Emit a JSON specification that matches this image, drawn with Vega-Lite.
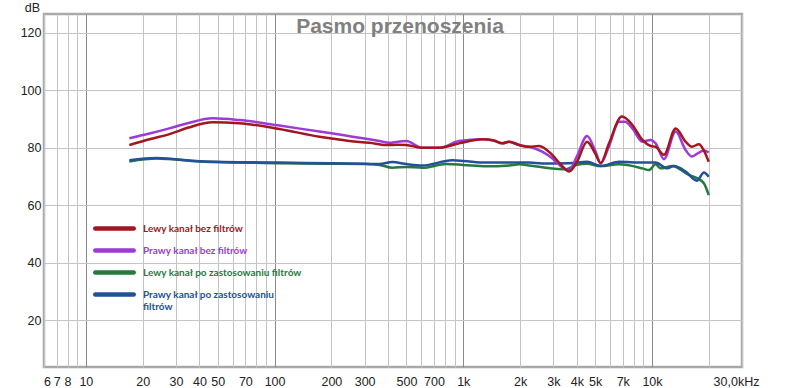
{
 "$schema": "https://vega.github.io/schema/vega-lite/v6.json",
 "width": 698,
 "height": 353,
 "autosize": {"type": "none"},
 "padding": {"left": 44, "top": 14, "right": 58, "bottom": 21},
 "background": "white",
 "config": {"view": {"stroke": "#a9a9a9", "strokeWidth": 2.5}, "font": "Liberation Sans"},
 "title": {"text": "Pasmo przenoszenia", "fontSize": 21, "fontWeight": "bold", "color": "#808080", "font": "Liberation Sans", "anchor": "middle", "frame": "group", "baseline": "alphabetic", "offset": -19, "dx": 7, "dy": 34},
 "layer": [
  {
   "data": {"values": [
    {"s":"Lewy kanał po zastosowaniu filtrów","f":17,"db":75.2},{"s":"Lewy kanał po zastosowaniu filtrów","f":23.7,"db":76.2},{"s":"Lewy kanał po zastosowaniu filtrów","f":40,"db":75.2},{"s":"Lewy kanał po zastosowaniu filtrów","f":106,"db":74.6},{"s":"Lewy kanał po zastosowaniu filtrów","f":200,"db":74.4},{"s":"Lewy kanał po zastosowaniu filtrów","f":300,"db":74.3},{"s":"Lewy kanał po zastosowaniu filtrów","f":360,"db":74.0},{"s":"Lewy kanał po zastosowaniu filtrów","f":420,"db":73.0},{"s":"Lewy kanał po zastosowaniu filtrów","f":500,"db":73.3},{"s":"Lewy kanał po zastosowaniu filtrów","f":607,"db":73.0},{"s":"Lewy kanał po zastosowaniu filtrów","f":813,"db":74.3},{"s":"Lewy kanał po zastosowaniu filtrów","f":1000,"db":74.0},{"s":"Lewy kanał po zastosowaniu filtrów","f":1320,"db":73.5},{"s":"Lewy kanał po zastosowaniu filtrów","f":1750,"db":73.8},{"s":"Lewy kanał po zastosowaniu filtrów","f":1980,"db":74.2},{"s":"Lewy kanał po zastosowaniu filtrów","f":2230,"db":73.8},{"s":"Lewy kanał po zastosowaniu filtrów","f":2620,"db":73.2},{"s":"Lewy kanał po zastosowaniu filtrów","f":3500,"db":72.5},{"s":"Lewy kanał po zastosowaniu filtrów","f":3960,"db":74.0},{"s":"Lewy kanał po zastosowaniu filtrów","f":4530,"db":74.4},{"s":"Lewy kanał po zastosowaniu filtrów","f":5350,"db":73.6},{"s":"Lewy kanał po zastosowaniu filtrów","f":6690,"db":74.2},{"s":"Lewy kanał po zastosowaniu filtrów","f":8890,"db":72.8},{"s":"Lewy kanał po zastosowaniu filtrów","f":9640,"db":72.2},{"s":"Lewy kanał po zastosowaniu filtrów","f":10460,"db":74.2},{"s":"Lewy kanał po zastosowaniu filtrów","f":11120,"db":72.8},{"s":"Lewy kanał po zastosowaniu filtrów","f":12810,"db":73.6},{"s":"Lewy kanał po zastosowaniu filtrów","f":15700,"db":70.5},{"s":"Lewy kanał po zastosowaniu filtrów","f":17300,"db":69.4},{"s":"Lewy kanał po zastosowaniu filtrów","f":18840,"db":67.6},{"s":"Lewy kanał po zastosowaniu filtrów","f":20000,"db":63.5},
    {"s":"Prawy kanał po zastosowaniu filtrów","f":17,"db":75.6},{"s":"Prawy kanał po zastosowaniu filtrów","f":23.7,"db":76.4},{"s":"Prawy kanał po zastosowaniu filtrów","f":40,"db":75.3},{"s":"Prawy kanał po zastosowaniu filtrów","f":106,"db":74.8},{"s":"Prawy kanał po zastosowaniu filtrów","f":200,"db":74.6},{"s":"Prawy kanał po zastosowaniu filtrów","f":300,"db":74.4},{"s":"Prawy kanał po zastosowaniu filtrów","f":360,"db":74.3},{"s":"Prawy kanał po zastosowaniu filtrów","f":421,"db":75.0},{"s":"Prawy kanał po zastosowaniu filtrów","f":500,"db":74.3},{"s":"Prawy kanał po zastosowaniu filtrów","f":607,"db":73.8},{"s":"Prawy kanał po zastosowaniu filtrów","f":875,"db":75.6},{"s":"Prawy kanał po zastosowaniu filtrów","f":1000,"db":75.4},{"s":"Prawy kanał po zastosowaniu filtrów","f":1320,"db":74.8},{"s":"Prawy kanał po zastosowaniu filtrów","f":1750,"db":74.8},{"s":"Prawy kanał po zastosowaniu filtrów","f":2230,"db":74.8},{"s":"Prawy kanał po zastosowaniu filtrów","f":2620,"db":74.5},{"s":"Prawy kanał po zastosowaniu filtrów","f":3640,"db":74.6},{"s":"Prawy kanał po zastosowaniu filtrów","f":4530,"db":75.1},{"s":"Prawy kanał po zastosowaniu filtrów","f":5350,"db":73.6},{"s":"Prawy kanał po zastosowaniu filtrów","f":6690,"db":75.1},{"s":"Prawy kanał po zastosowaniu filtrów","f":8890,"db":74.8},{"s":"Prawy kanał po zastosowaniu filtrów","f":10460,"db":74.8},{"s":"Prawy kanał po zastosowaniu filtrów","f":12050,"db":72.8},{"s":"Prawy kanał po zastosowaniu filtrów","f":13070,"db":73.6},{"s":"Prawy kanał po zastosowaniu filtrów","f":15070,"db":71.7},{"s":"Prawy kanał po zastosowaniu filtrów","f":17300,"db":68.5},{"s":"Prawy kanał po zastosowaniu filtrów","f":18840,"db":71.4},{"s":"Prawy kanał po zastosowaniu filtrów","f":20000,"db":69.9},
    {"s":"Prawy kanał bez filtrów","f":17,"db":83.3},{"s":"Prawy kanał bez filtrów","f":22,"db":85.0},{"s":"Prawy kanał bez filtrów","f":28,"db":86.8},{"s":"Prawy kanał bez filtrów","f":35,"db":88.6},{"s":"Prawy kanał bez filtrów","f":47,"db":90.2},{"s":"Prawy kanał bez filtrów","f":65,"db":89.6},{"s":"Prawy kanał bez filtrów","f":106,"db":87.7},{"s":"Prawy kanał bez filtrów","f":173,"db":85.6},{"s":"Prawy kanał bez filtrów","f":200,"db":85.0},{"s":"Prawy kanał bez filtrów","f":250,"db":84.0},{"s":"Prawy kanał bez filtrów","f":318,"db":82.9},{"s":"Prawy kanał bez filtrów","f":360,"db":82.3},{"s":"Prawy kanał bez filtrów","f":406,"db":81.7},{"s":"Prawy kanał bez filtrów","f":450,"db":82.1},{"s":"Prawy kanał bez filtrów","f":500,"db":82.3},{"s":"Prawy kanał bez filtrów","f":600,"db":80.0},{"s":"Prawy kanał bez filtrów","f":750,"db":80.0},{"s":"Prawy kanał bez filtrów","f":950,"db":82.3},{"s":"Prawy kanał bez filtrów","f":1260,"db":82.9},{"s":"Prawy kanał bez filtrów","f":1450,"db":82.5},{"s":"Prawy kanał bez filtrów","f":1610,"db":81.5},{"s":"Prawy kanał bez filtrów","f":1750,"db":82.1},{"s":"Prawy kanał bez filtrów","f":1980,"db":80.9},{"s":"Prawy kanał bez filtrów","f":2230,"db":80.3},{"s":"Prawy kanał bez filtrów","f":2620,"db":78.6},{"s":"Prawy kanał bez filtrów","f":2960,"db":76.3},{"s":"Prawy kanał bez filtrów","f":3300,"db":73.5},{"s":"Prawy kanał bez filtrów","f":3640,"db":72.2},{"s":"Prawy kanał bez filtrów","f":4000,"db":77.0},{"s":"Prawy kanał bez filtrów","f":4530,"db":84.1},{"s":"Prawy kanał bez filtrów","f":5000,"db":79.0},{"s":"Prawy kanał bez filtrów","f":5350,"db":74.6},{"s":"Prawy kanał bez filtrów","f":5920,"db":80.5},{"s":"Prawy kanał bez filtrów","f":6690,"db":89.0},{"s":"Prawy kanał bez filtrów","f":7200,"db":89.0},{"s":"Prawy kanał bez filtrów","f":7870,"db":86.7},{"s":"Prawy kanał bez filtrów","f":8890,"db":82.1},{"s":"Prawy kanał bez filtrów","f":9840,"db":82.7},{"s":"Prawy kanał bez filtrów","f":10460,"db":81.5},{"s":"Prawy kanał bez filtrów","f":11570,"db":76.0},{"s":"Prawy kanał bez filtrów","f":13350,"db":85.6},{"s":"Prawy kanał bez filtrów","f":15070,"db":79.2},{"s":"Prawy kanał bez filtrów","f":16290,"db":76.9},{"s":"Prawy kanał bez filtrów","f":17740,"db":78.3},{"s":"Prawy kanał bez filtrów","f":18840,"db":79.0},{"s":"Prawy kanał bez filtrów","f":20000,"db":78.3},
    {"s":"Lewy kanał bez filtrów","f":17,"db":80.9},{"s":"Lewy kanał bez filtrów","f":22,"db":83.0},{"s":"Lewy kanał bez filtrów","f":28,"db":84.8},{"s":"Lewy kanał bez filtrów","f":35,"db":87.0},{"s":"Lewy kanał bez filtrów","f":47,"db":88.8},{"s":"Lewy kanał bez filtrów","f":65,"db":88.5},{"s":"Lewy kanał bez filtrów","f":106,"db":86.5},{"s":"Lewy kanał bez filtrów","f":173,"db":83.8},{"s":"Lewy kanał bez filtrów","f":200,"db":83.2},{"s":"Lewy kanał bez filtrów","f":250,"db":82.3},{"s":"Lewy kanał bez filtrów","f":318,"db":81.7},{"s":"Lewy kanał bez filtrów","f":390,"db":80.9},{"s":"Lewy kanał bez filtrów","f":450,"db":81.0},{"s":"Lewy kanał bez filtrów","f":500,"db":80.9},{"s":"Lewy kanał bez filtrów","f":600,"db":80.0},{"s":"Lewy kanał bez filtrów","f":750,"db":80.0},{"s":"Lewy kanał bez filtrów","f":950,"db":81.5},{"s":"Lewy kanał bez filtrów","f":1260,"db":82.9},{"s":"Lewy kanał bez filtrów","f":1450,"db":82.5},{"s":"Lewy kanał bez filtrów","f":1610,"db":81.5},{"s":"Lewy kanał bez filtrów","f":1750,"db":82.1},{"s":"Lewy kanał bez filtrów","f":1980,"db":80.9},{"s":"Lewy kanał bez filtrów","f":2230,"db":80.3},{"s":"Lewy kanał bez filtrów","f":2520,"db":80.6},{"s":"Lewy kanał bez filtrów","f":2960,"db":77.5},{"s":"Lewy kanał bez filtrów","f":3300,"db":74.0},{"s":"Lewy kanał bez filtrów","f":3640,"db":71.7},{"s":"Lewy kanał bez filtrów","f":4000,"db":75.0},{"s":"Lewy kanał bez filtrów","f":4530,"db":82.1},{"s":"Lewy kanał bez filtrów","f":5000,"db":78.0},{"s":"Lewy kanał bez filtrów","f":5350,"db":74.6},{"s":"Lewy kanał bez filtrów","f":5920,"db":81.5},{"s":"Lewy kanał bez filtrów","f":6930,"db":90.8},{"s":"Lewy kanał bez filtrów","f":7870,"db":87.9},{"s":"Lewy kanał bez filtrów","f":8890,"db":82.7},{"s":"Lewy kanał bez filtrów","f":9840,"db":80.6},{"s":"Lewy kanał bez filtrów","f":10460,"db":80.3},{"s":"Lewy kanał bez filtrów","f":11570,"db":77.5},{"s":"Lewy kanał bez filtrów","f":13350,"db":86.7},{"s":"Lewy kanał bez filtrów","f":15070,"db":82.1},{"s":"Lewy kanał bez filtrów","f":16290,"db":80.3},{"s":"Lewy kanał bez filtrów","f":17740,"db":81.2},{"s":"Lewy kanał bez filtrów","f":18840,"db":79.0},{"s":"Lewy kanał bez filtrów","f":20000,"db":75.1}
   ]},
   "mark": {"type": "line", "strokeWidth": 2.5, "interpolate": "monotone"},
   "encoding": {
    "x": {"field": "f", "type": "quantitative",
      "scale": {"type": "log", "domain": [6, 30000], "nice": false},
      "axis": {"title": null, "domain": false, "ticks": false, "labelPadding": 8, "labelOverlap": false, "labelFlush": false, "labelFontSize": 12.5, "labelColor": "#222222", "labelFont": "Liberation Sans",
        "values": [6,7,8,9,10,20,30,40,50,60,70,80,90,100,200,300,400,500,600,700,800,900,1000,2000,3000,4000,5000,6000,7000,8000,9000,10000,20000,30000],
        "labelExpr": "datum.value == 30000 ? '30,0kHz' : (indexof([6,7,8,10,20,30,40,50,70,100,200,300,500,700,1000,2000,3000,4000,5000,7000,10000], datum.value) >= 0 ? (datum.value >= 1000 ? (datum.value/1000) + 'k' : '' + datum.value) : '')",
        "gridColor": {"condition": {"test": "datum.value == 10 || datum.value == 100 || datum.value == 1000 || datum.value == 10000", "value": "#8a8a8a"}, "value": "#c4c4c4"},
        "labelOffset": {"condition": [{"test": "datum.value == 30000", "value": -6}, {"test": "datum.value == 6", "value": 3}], "value": 0}
      }},
    "y": {"field": "db", "type": "quantitative",
      "scale": {"domain": [3.7, 126.5], "nice": false, "zero": false},
      "axis": {"title": "dB", "titleAngle": 0, "titleX": -12, "titleY": -7, "titleAlign": "center", "titleBaseline": "middle", "titleFontWeight": "normal", "titleFontSize": 12.5, "titleColor": "#222222", "titleFont": "Liberation Sans",
        "values": [20,40,60,80,100,120], "domain": false, "ticks": false, "labelPadding": 3, "labelFontSize": 12.5, "labelColor": "#222222", "labelFont": "Liberation Sans", "gridColor": "#c4c4c4"}},
    "color": {"field": "s", "type": "nominal",
      "scale": {"domain": ["Lewy kanał bez filtrów", "Prawy kanał bez filtrów", "Lewy kanał po zastosowaniu filtrów", "Prawy kanał po zastosowaniu filtrów"], "range": ["#a3161f", "#9c3bd6", "#267a3e", "#22509a"]},
      "legend": {"orient": "none", "legendX": 62, "legendY": 206, "title": null, "padding": 0,
        "symbolType": "M-3.2,0H3.2", "symbolSize": 144, "symbolStrokeWidth": 4.5, "symbolFillColor": "transparent",
        "labelFont": "Lato", "labelFontSize": 10, "labelFontWeight": "bold", "labelOffset": 20, "rowPadding": 3, "labelLimit": 300,
        "labelExpr": "datum.label == 'Prawy kanał po zastosowaniu filtrów' ? ['Prawy kanał po zastosowaniu', 'filtrów'] : datum.label",
        "encode": {"labels": {"update": {"fill": {"scale": "color", "field": "value"}}}, "symbols": {"update": {"strokeCap": {"value": "round"}}}}
      }}
   }
  }
 ]
}
